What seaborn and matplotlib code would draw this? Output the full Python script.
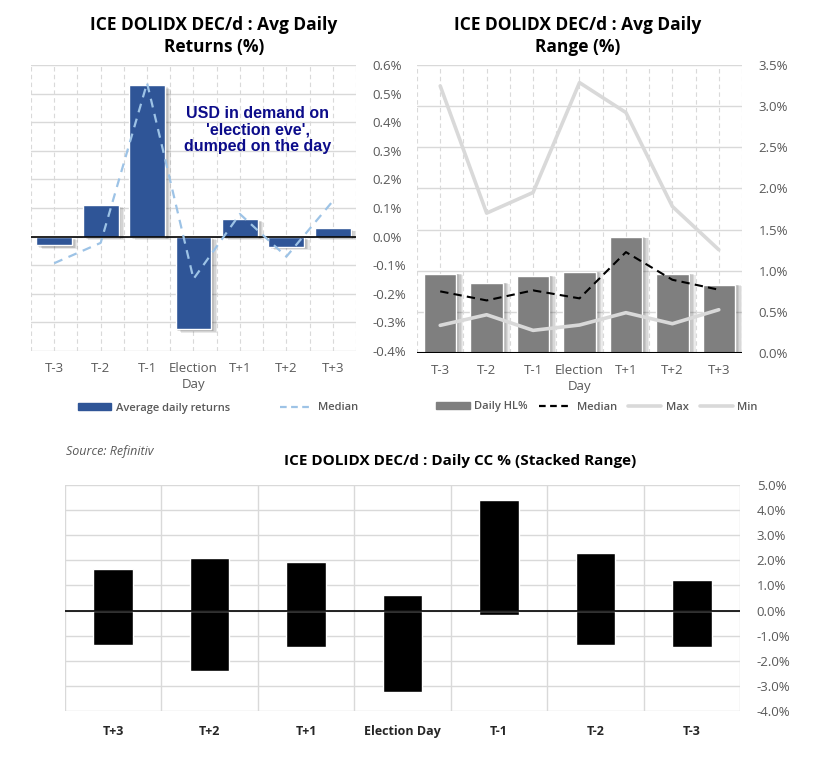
import numpy as np
import pandas as pd
import matplotlib
matplotlib.use("Agg")
import matplotlib.pyplot as plt
import matplotlib.patheffects as pe
from matplotlib.ticker import FixedLocator, FuncFormatter
from matplotlib.lines import Line2D
from matplotlib.patches import Patch
import seaborn as sns

# ---------------- data ----------------
days = ["T-3", "T-2", "T-1", "Election\nDay", "T+1", "T+2", "T+3"]
avg_returns = [-0.031, 0.112, 0.529, -0.324, 0.063, -0.035, 0.031]
median_returns = [-0.093, -0.022, 0.537, -0.148, 0.079, -0.070, 0.124]

daily_hl = [0.963, 0.854, 0.939, 0.987, 1.412, 0.963, 0.830]
median_hl = [0.749, 0.639, 0.761, 0.664, 1.226, 0.890, 0.769]
max_hl = [3.246, 1.700, 1.951, 3.286, 2.922, 1.781, 1.255]
min_hl = [0.336, 0.465, 0.275, 0.340, 0.490, 0.356, 0.526]

cc_days = ["T+3", "T+2", "T+1", "Election Day", "T-1", "T-2", "T-3"]
cc_high = [1.65, 2.09, 1.93, 0.61, 4.41, 2.29, 1.21]
cc_low = [-1.37, -2.39, -1.45, -3.25, -0.17, -1.37, -1.45]

# ---------------- style ----------------
sns.set_theme(style="white")
plt.rcParams["font.family"] = ["Open Sans", "DejaVu Sans"]
TICK = "#595959"
GRID = "#d9d9d9"

fig = plt.figure(figsize=(8.2, 7.69), dpi=100)
W, H = 820.0, 769.0


def axes_px(l, t, r, b):
    return fig.add_axes([l / W, 1 - b / H, (r - l) / W, (b - t) / H])


def pct_fmt(v, _):
    v = round(v, 6)
    if abs(v) < 1e-9:
        v = 0.0
    return f"{v:.1f}%"


def shadow(ax, steps=((1, -1), (2, -1.5), (3, -2), (4, -2.5)), alpha=0.09):
    for p in ax.patches:
        effects = [pe.SimplePatchShadow(offset=o, shadow_rgbFace="black", alpha=alpha) for o in steps]
        p.set_path_effects(effects + [pe.Normal()])


def style_top(ax, ylim, step):
    ax.set_xlim(-0.5, 6.5)
    ax.set_ylim(*ylim)
    ax.yaxis.tick_right()
    ax.set_yticks(np.round(np.arange(ylim[0], ylim[1] + step / 2, step), 6))
    ax.yaxis.set_major_formatter(FuncFormatter(pct_fmt))
    ax.xaxis.set_minor_locator(FixedLocator(np.arange(-0.5, 7, 1)))
    ax.grid(axis="y", color=GRID, lw=1, ls="-")
    ax.grid(axis="x", which="both", color=GRID, lw=0.8, ls=(0, (4, 3)))
    ax.set_axisbelow(True)
    for s in ax.spines.values():
        s.set_visible(False)
    ax.tick_params(axis="both", which="both", length=0, labelsize=9.5, labelcolor=TICK)
    ax.tick_params(axis="y", pad=12)
    ax.tick_params(axis="x", pad=8)
    ax.set_xticks(range(7))
    ax.set_xticklabels(days, linespacing=1.3)
    ax.set_xlabel("")
    ax.set_ylabel("")


# ---------------- top-left: avg daily returns ----------------
ax1 = axes_px(31, 65, 356, 351)
df1 = pd.DataFrame({"day": days, "ret": avg_returns})
sns.barplot(data=df1, x="day", y="ret", color="#2F5597", saturation=1, width=0.77, ax=ax1)
shadow(ax1)
ax1.axhline(0, color="black", lw=1.2, zorder=2)
sns.lineplot(x=np.arange(7), y=median_returns, ax=ax1, color="#9DC3E6", lw=1.6,
             linestyle=(0, (4, 3)), zorder=3)
style_top(ax1, (-0.4, 0.6), 0.1)
fig.text(258 / W, 1 - 130 / H, "USD in demand on\n'election eve',\ndumped on the day", ha="center", va="center",
         fontsize=11.5, fontweight="bold", color="#0C0C8A", family="Liberation Sans", linespacing=1.15)
h1 = [Patch(color="#2F5597"), Line2D([], [], color="#9DC3E6", lw=1.6, ls=(0, (3, 2)))]
fig.legend(h1, ["Average daily returns", "Median"], loc="center", bbox_to_anchor=(218 / W, 1 - 408 / H),
           ncol=2, frameon=False, handlelength=3.0, handleheight=0.5, columnspacing=4.5,
           handletextpad=0.4, labelcolor=TICK, prop={"weight": "semibold", "size": 8})

# ---------------- top-right: avg daily range ----------------
ax2 = axes_px(417, 65, 742, 353)
df2 = pd.DataFrame({"day": days, "hl": daily_hl})
sns.barplot(data=df2, x="day", y="hl", color="#7F7F7F", saturation=1, width=0.70, ax=ax2)
shadow(ax2, steps=((1, 0), (2, 0), (3, -0.5), (4, -0.5), (5, -1)), alpha=0.08)
sns.lineplot(x=np.arange(7), y=max_hl, ax=ax2, color="#d9d9d9", lw=2.6, zorder=3)
sns.lineplot(x=np.arange(7), y=min_hl, ax=ax2, color="#d9d9d9", lw=2.6, zorder=3)
sns.lineplot(x=np.arange(7), y=median_hl, ax=ax2, color="black", lw=1.5, linestyle=(0, (4, 2.5)), zorder=4)
ax2.axhline(0, color="black", lw=1.5, zorder=5)
style_top(ax2, (0, 3.5), 0.5)
h2 = [Patch(color="#7F7F7F"), Line2D([], [], color="black", lw=1.6, ls=(0, (3, 2))),
      Line2D([], [], color="#d9d9d9", lw=2.6), Line2D([], [], color="#d9d9d9", lw=2.6)]
fig.legend(h2, ["Daily HL%", "Median", "Max", "Min"], loc="center", bbox_to_anchor=(597 / W, 1 - 407 / H),
           ncol=4, frameon=False, handlelength=3.0, handleheight=0.5, columnspacing=1.0,
           handletextpad=0.4, labelcolor=TICK, prop={"weight": "semibold", "size": 8})

# ---------------- titles ----------------
for cx, sub in [(214, "Returns (%)"), (578, "Range (%)")]:
    fig.text(cx / W, 1 - 25 / H, "ICE DOLIDX DEC/d : Avg Daily", ha="center", va="center",
             fontsize=12.5, fontweight="bold", color="black")
    fig.text(cx / W, 1 - 47 / H, sub, ha="center", va="center", fontsize=12.5, fontweight="bold", color="black")

fig.text(66 / W, 1 - 452 / H, "Source: Refinitiv", ha="left", va="center", fontsize=9,
         style="italic", color=TICK)
fig.text(460 / W, 1 - 461 / H, "ICE DOLIDX DEC/d : Daily CC % (Stacked Range)", ha="center", va="center",
         fontsize=11, fontweight="bold", color="black")

# ---------------- bottom: stacked range ----------------
ax3 = axes_px(65, 485, 740, 711)
df3 = pd.DataFrame({"day": cc_days, "hi": cc_high, "lo": cc_low})
sns.barplot(data=df3, x="day", y="hi", color="black", saturation=1, width=0.41, ax=ax3)
sns.barplot(data=df3, x="day", y="lo", color="black", saturation=1, width=0.41, ax=ax3)
ax3.axhline(0, color="black", lw=1.2, zorder=1.5)
ax3.set_xlim(-0.5, 6.5)
ax3.set_ylim(-4, 5)
ax3.yaxis.tick_right()
ax3.set_yticks(np.arange(-4, 5.5, 1))
ax3.yaxis.set_major_formatter(FuncFormatter(pct_fmt))
ax3.set_xticks(range(7))
ax3.set_xticklabels(cc_days, fontweight="bold", color="#262626")
ax3.xaxis.set_minor_locator(FixedLocator(np.arange(-0.5, 7, 1)))
ax3.grid(axis="y", color=GRID, lw=1)
ax3.grid(axis="x", which="minor", color=GRID, lw=1)
ax3.grid(axis="x", which="major", visible=False)
ax3.set_axisbelow(True)
for s in ax3.spines.values():
    s.set_visible(False)
ax3.tick_params(axis="both", which="both", length=0, labelsize=9.5)
ax3.tick_params(axis="y", pad=12, labelcolor=TICK)
ax3.tick_params(axis="x", pad=10, labelsize=9)
ax3.set_xlabel("")
ax3.set_ylabel("")

fig.savefig("out.png", dpi=100)
